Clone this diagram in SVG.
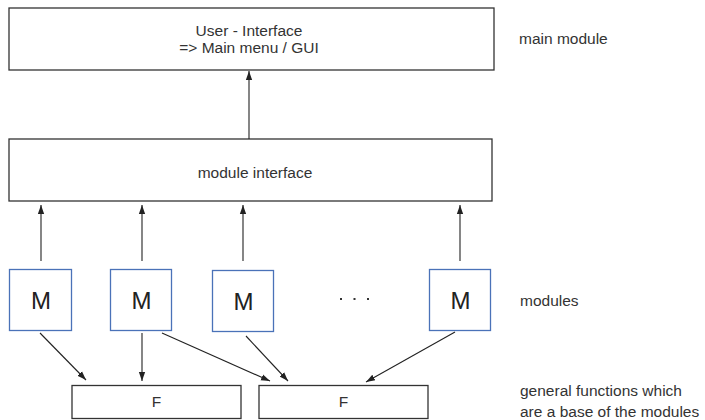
<svg xmlns="http://www.w3.org/2000/svg" width="705" height="420" viewBox="0 0 705 420">
<defs>
<marker id="ah" viewBox="0 0 10 10" refX="10" refY="5" markerWidth="9" markerHeight="9" markerUnits="userSpaceOnUse" orient="auto">
<path d="M0,1.5 L10,5 L0,8.5 Z" fill="#222"/>
</marker>
<style>
.box{fill:#fff;stroke:#333;stroke-width:1.3}
.mbox{fill:#fff;stroke:#4a72b8;stroke-width:1.3}
.t{font-family:"Liberation Sans",Arial,sans-serif;font-size:15.5px;fill:#333}
.m{font-family:"Liberation Sans",Arial,sans-serif;font-size:24px;fill:#222;text-anchor:middle}
.c{text-anchor:middle}
.con line{stroke:#222;stroke-width:1.1;marker-end:url(#ah)}
</style>
</defs>
<rect width="705" height="420" fill="#fff"/>
<g id="ui">
<rect class="box" x="9" y="8" width="485" height="62"/>
<text class="t c" x="249" y="35.5">User - Interface</text>
<text class="t c" x="249" y="52.5">=&gt; Main menu / GUI</text>
</g>
<g id="mi">
<rect class="box" x="9" y="139" width="483" height="62"/>
<text class="t c" x="255" y="178">module interface</text>
</g>
<g id="m1"><rect class="mbox" x="9.5" y="269.5" width="62" height="61"/><text class="m" x="41" y="309">M</text></g>
<g id="m2"><rect class="mbox" x="110.5" y="269.5" width="61" height="61"/><text class="m" x="141.5" y="309">M</text></g>
<g id="m3"><rect class="mbox" x="212.5" y="270.5" width="61" height="61"/><text class="m" x="243.5" y="310">M</text></g>
<g id="m4"><rect class="mbox" x="429.5" y="269.5" width="61" height="61"/><text class="m" x="460.5" y="309">M</text></g>
<g id="dots" fill="#333">
<rect x="340" y="298" width="2" height="2"/>
<rect x="353.5" y="298" width="2" height="2"/>
<rect x="367" y="298" width="2" height="2"/>
</g>
<g id="f1"><rect class="box" x="72" y="385.5" width="169" height="33"/><text class="t c" x="156.5" y="407">F</text></g>
<g id="f2"><rect class="box" x="259" y="385.5" width="169" height="33"/><text class="t c" x="343.5" y="407">F</text></g>
<g id="labels">
<text class="t" x="519" y="43.5">main module</text>
<text class="t" x="520" y="306">modules</text>
<text class="t" x="520" y="395.5">general functions which</text>
<text class="t" x="520" y="417">are a base of the modules</text>
</g>
<g class="con">
<line x1="249" y1="139" x2="249" y2="71"/>
<line x1="41" y1="261" x2="41" y2="205"/>
<line x1="142" y1="261" x2="142" y2="205"/>
<line x1="243" y1="261" x2="243" y2="205"/>
<line x1="460" y1="261" x2="460" y2="205"/>
<line x1="40" y1="333" x2="86" y2="380"/>
<line x1="142" y1="333" x2="142" y2="381"/>
<line x1="162" y1="333" x2="270" y2="381"/>
<line x1="246" y1="336" x2="288" y2="381"/>
<line x1="455" y1="332" x2="366" y2="382"/>
</g>
</svg>
